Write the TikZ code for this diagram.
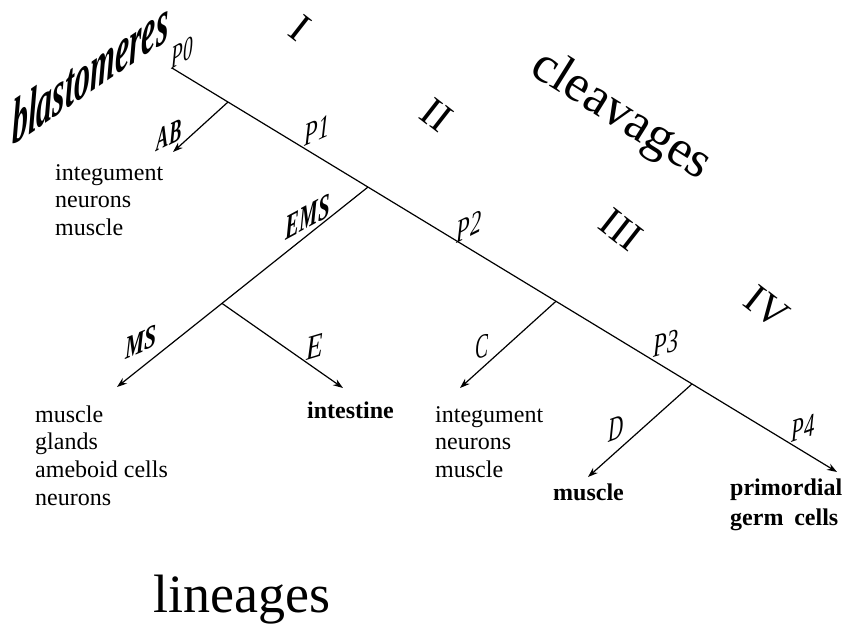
\documentclass[tikz,border=0pt]{standalone}
\usepackage{fontspec}
\setmainfont{Liberation Serif}
\usetikzlibrary{arrows.meta,calc}
\begin{document}
\begin{tikzpicture}[x=1pt,y=-1pt,
  ln/.style={line width=1.2pt},
  arr/.style={ln,-{Stealth[length=10pt,width=7pt]}},
  body/.style={font=\fontsize{24}{27}\selectfont, anchor=base west, inner sep=0pt},
  bodyb/.style={body, font=\fontsize{24}{27}\selectfont\bfseries},
  lab/.style={font=\fontsize{32}{32}\selectfont\itshape, inner sep=0pt, transform shape},
  labb/.style={lab, font=\fontsize{32}{32}\selectfont\bfseries\itshape},
  labl/.style={lab, font=\fontsize{34}{34}\selectfont\itshape},
  roman/.style={font=\fontsize{41}{41}\selectfont, inner sep=0pt, rotate=-38},
  big/.style={font=\fontsize{54}{54}\selectfont, inner sep=0pt}
]
\useasboundingbox (0,0) rectangle (844,625);

% tree points
\coordinate (p0) at (172,68);
\coordinate (p4) at (837,472);
\coordinate (jab) at ($(p0)!0.0842!(p4)$);
\coordinate (ems) at ($(p0)!0.2947!(p4)$);
\coordinate (jc) at ($(p0)!0.5774!(p4)$);
\coordinate (jd) at ($(p0)!0.782!(p4)$);
\coordinate (abt) at (173,152);
\coordinate (mst) at (117,387);
\coordinate (je) at ($(ems)!0.5817!(mst)$);
\coordinate (et) at (343,388);
\coordinate (ct) at (460,388);
\coordinate (dt) at (588,477);

\draw[arr] (p0) -- (p4);
\draw[arr] (jab) -- (abt);
\draw[arr] (ems) -- (mst);
\draw[arr] (je) -- (et);
\draw[arr] (jc) -- (ct);
\draw[arr] (jd) -- (dt);

% branch labels (yslant first, so it is the slope of the baseline)
\node[lab, yslant=0.6, xscale=0.6] (lp0) at (182,53) {P0};
\node[labb, yslant=0.5, xscale=0.58] (lab) at (169,135) {AB};
\node[lab, yslant=0.45, xscale=0.7] (lp1) at (317,130) {P1};
\node[labb, font=\fontsize{35}{35}\selectfont\bfseries\itshape, yslant=0.54, xscale=0.6] (lems) at (308,217) {EMS};
\node[lab, yslant=0.5, xscale=0.7] (lp2) at (469,227) {P2};
\node[labb, yslant=0.42, xscale=0.68] (lms) at (141,342) {MS};
\node[labl, yslant=0.3, xscale=0.8] (le) at (315,347) {E};
\node[labl, yslant=0.25, xscale=0.57] (lc) at (482,347) {C};
\node[lab, yslant=0.3, xscale=0.7] (lp3) at (666,343) {P3};
\node[labl, yslant=0.37, xscale=0.61] (ld) at (616,429) {D};
\node[lab, yslant=0.35, xscale=0.65] (lp4) at (803,428) {P4};

% big titles
\node[font=\fontsize{64}{64}\selectfont\bfseries\itshape, inner sep=0pt, transform shape, yslant=0.68, xscale=0.5, anchor=base west] (bl) at (12,146) {blastomeres};
\node[big, font=\fontsize{52}{52}\selectfont, rotate=-32] (clv) at (621,116) {cleavages};
\node[big, anchor=base west] (lin) at (153,612) {lineages};

% cleavage numerals
\node[roman] (r1) at (300,28) {I};
\node[roman] (r2) at (437,115) {II};
\node[roman] (r3) at (621,230) {III};
\node[roman] (r4) at (767,307) {IV};

% fates
\foreach \t [count=\i] in {integument,neurons,muscle}
  \node[body] (ab\i) at (55,{180+27.5*(\i-1)}) {\t};
\foreach \t [count=\i] in {muscle,glands,ameboid cells,neurons}
  \node[body] (ms\i) at (35,{422+27.7*(\i-1)}) {\t};
\foreach \t [count=\i] in {integument,neurons,muscle}
  \node[body] (c\i) at (435,{422+27.5*(\i-1)}) {\t};
\node[bodyb] (int) at (307,418) {intestine};
\node[bodyb] (dm) at (553,500) {muscle};
\node[bodyb] (pg1) at (730,495) {primordial};
\node[bodyb] (pg2) at (730,525) {germ\hspace{0.45em}cells};
\end{tikzpicture}
\end{document}
